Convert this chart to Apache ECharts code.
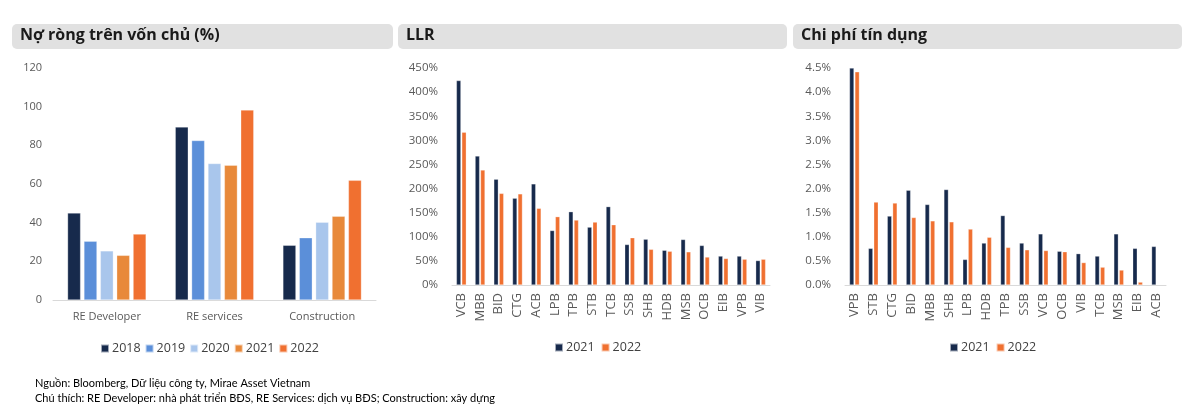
<!DOCTYPE html>
<html><head><meta charset="utf-8">
<script src="https://cdn.jsdelivr.net/npm/echarts@6/dist/echarts.min.js"></script>
<style>html,body{margin:0;padding:0;background:#fff}#c{width:1200px;height:407px}</style>
</head><body><div id="c"></div>
<script>
// Panel 1: Net debt to equity (%)
const sectors = ['RE Developer', 'RE services', 'Construction'];
const years = ['2018', '2019', '2020', '2021', '2022'];
const de2018 = [45, 89.5, 28.3];
const de2019 = [30.4, 82.5, 32.2];
const de2020 = [25.4, 70.6, 40.2];
const de2021 = [23.1, 69.7, 43.3];
const de2022 = [34.1, 98.3, 61.9];
const yearColors = ['#172a4c', '#5b8fd9', '#a9c6ec', '#e8893a', '#f07030'];

// Panel 2: LLR (%)
const llrBanks = ['VCB','MBB','BID','CTG','ACB','LPB','TPB','STB','TCB','SSB','SHB','HDB','MSB','OCB','EIB','VPB','VIB'];
const llr2021 = [424, 267.5, 219.4, 180, 209.7, 113, 152, 120, 162.5, 84, 95, 72, 94.4, 82, 60, 60, 50.7];
const llr2022 = [317, 238.5, 190, 189, 159, 141.7, 134.7, 130.5, 125, 98, 74, 70, 68.8, 58, 55, 53.5, 53.5];

// Panel 3: Credit cost (%)
const ccBanks = ['VPB','STB','CTG','BID','MBB','SHB','LPB','HDB','TPB','SSB','VCB','OCB','VIB','TCB','MSB','EIB','ACB'];
const cc2021 = [4.5, 0.76, 1.43, 1.965, 1.67, 1.98, 0.53, 0.87, 1.44, 0.87, 1.06, 0.70, 0.65, 0.60, 1.06, 0.76, 0.80];
const cc2022 = [4.42, 1.72, 1.70, 1.40, 1.33, 1.31, 1.16, 0.99, 0.78, 0.73, 0.715, 0.69, 0.465, 0.37, 0.31, 0.06, null];

const FONT = 'Open Sans';
const labelColor = '#595959';
const navy = '#172a4c', orange = '#f07030';

const chart = echarts.init(document.getElementById('c'));
const deData = [de2018, de2019, de2020, de2021, de2022];

const series = [];
years.forEach((y, i) => {
  series.push({
    name: y, type: 'bar', xAxisIndex: 0, yAxisIndex: 0, data: deData[i],
    barWidth: 13, barGap: '26%',
    itemStyle: { color: yearColors[i], borderColor: 'rgba(255,255,255,0.6)', borderWidth: 0.5 },
    silent: true
  });
});
series.push({ name: 'LLR 2021', type: 'bar', xAxisIndex: 1, yAxisIndex: 1, data: llr2021, barWidth: 4.5, barGap: '20%',
  itemStyle: { color: navy, borderColor: 'rgba(255,255,255,0.6)', borderWidth: 0.5 }, silent: true });
series.push({ name: 'LLR 2022', type: 'bar', xAxisIndex: 1, yAxisIndex: 1, data: llr2022, barWidth: 4.5, barGap: '20%',
  itemStyle: { color: orange, borderColor: 'rgba(255,255,255,0.6)', borderWidth: 0.5 }, silent: true });
series.push({ name: 'CC 2021', type: 'bar', xAxisIndex: 2, yAxisIndex: 2, data: cc2021, barWidth: 4.5, barGap: '20%',
  itemStyle: { color: navy, borderColor: 'rgba(255,255,255,0.6)', borderWidth: 0.5 }, silent: true });
series.push({ name: 'CC 2022', type: 'bar', xAxisIndex: 2, yAxisIndex: 2, data: cc2022, barWidth: 4.5, barGap: '20%',
  itemStyle: { color: orange, borderColor: 'rgba(255,255,255,0.6)', borderWidth: 0.5 }, silent: true });

const axisLine = { show: true, lineStyle: { color: '#d9d9d9', width: 1 } };
const legendBase = { itemWidth: 8, itemHeight: 8, itemGap: 4, icon: 'rect',
  textStyle: { fontFamily: FONT, fontSize: 12.5, color: '#404040', padding: [0, 0, 0, -2] },
  formatter: n => n.replace(/^(LLR|CC) /, ''), selectedMode: false };

const titleBar = (x, w, text) => [
  { type: 'rect', left: x, top: 24, shape: { width: w, height: 25, r: 5 }, style: { fill: '#e1e1e1' }, silent: true },
  { type: 'text', left: x + 8, top: 27, style: { text: text, font: 'bold 16px "' + FONT + '"', fill: '#1a1a1a' }, silent: true }
];

chart.setOption({
  animation: false,
  backgroundColor: '#fff',
  grid: [
    { left: 53, width: 323, top: 68, bottom: 107 },
    { left: 452, width: 318, top: 68, bottom: 122 },
    { left: 845, width: 321, top: 68, bottom: 122 }
  ],
  xAxis: [
    { type: 'category', gridIndex: 0, data: sectors, axisLine, axisTick: { show: false },
      axisLabel: { fontFamily: FONT, fontSize: 11, color: labelColor, margin: 11 } },
    { type: 'category', gridIndex: 1, data: llrBanks, axisLine, axisTick: { show: false },
      axisLabel: { fontFamily: FONT, fontSize: 13, color: labelColor, rotate: 90, margin: 8, interval: 0 } },
    { type: 'category', gridIndex: 2, data: ccBanks, axisLine, axisTick: { show: false },
      axisLabel: { fontFamily: FONT, fontSize: 13, color: labelColor, rotate: 90, margin: 8, interval: 0 } }
  ],
  yAxis: [
    { type: 'value', gridIndex: 0, min: 0, max: 120, interval: 20, splitLine: { show: false },
      axisLine: { show: false }, axisTick: { show: false },
      axisLabel: { fontFamily: FONT, fontSize: 11, color: labelColor, margin: 11 } },
    { type: 'value', gridIndex: 1, min: 0, max: 450, interval: 50, splitLine: { show: false },
      axisLine: { show: false }, axisTick: { show: false },
      axisLabel: { fontFamily: FONT, fontSize: 11.5, color: labelColor, margin: 14, formatter: '{value}%' } },
    { type: 'value', gridIndex: 2, min: 0, max: 4.5, interval: 0.5, splitLine: { show: false },
      axisLine: { show: false }, axisTick: { show: false },
      axisLabel: { fontFamily: FONT, fontSize: 11.5, color: labelColor, margin: 14, formatter: v => v.toFixed(1) + '%' } }
  ],
  legend: [
    Object.assign({}, legendBase, { data: years, left: 95, top: 337 }),
    Object.assign({}, legendBase, { data: ['LLR 2021', 'LLR 2022'], left: 549, top: 336, itemGap: 6 }),
    Object.assign({}, legendBase, { data: ['CC 2021', 'CC 2022'], left: 944, top: 336, itemGap: 6 })
  ],
  graphic: [
    ...titleBar(12, 381, 'Nợ ròng trên vốn chủ (%)'),
    ...titleBar(398, 389, 'LLR'),
    ...titleBar(793, 389, 'Chi phí tín dụng'),
    { type: 'text', left: 35, top: 378, style: { text: 'Nguồn: Bloomberg, Dữ liệu công ty, Mirae Asset Vietnam', font: '11px Lato', fill: '#000' }, silent: true },
    { type: 'text', left: 35, top: 393, style: { text: 'Chú thích: RE Developer: nhà phát triển BĐS, RE Services: dịch vụ BĐS; Construction: xây dựng', font: '11px Lato', fill: '#000' }, silent: true }
  ],
  series
});
</script></body></html>
